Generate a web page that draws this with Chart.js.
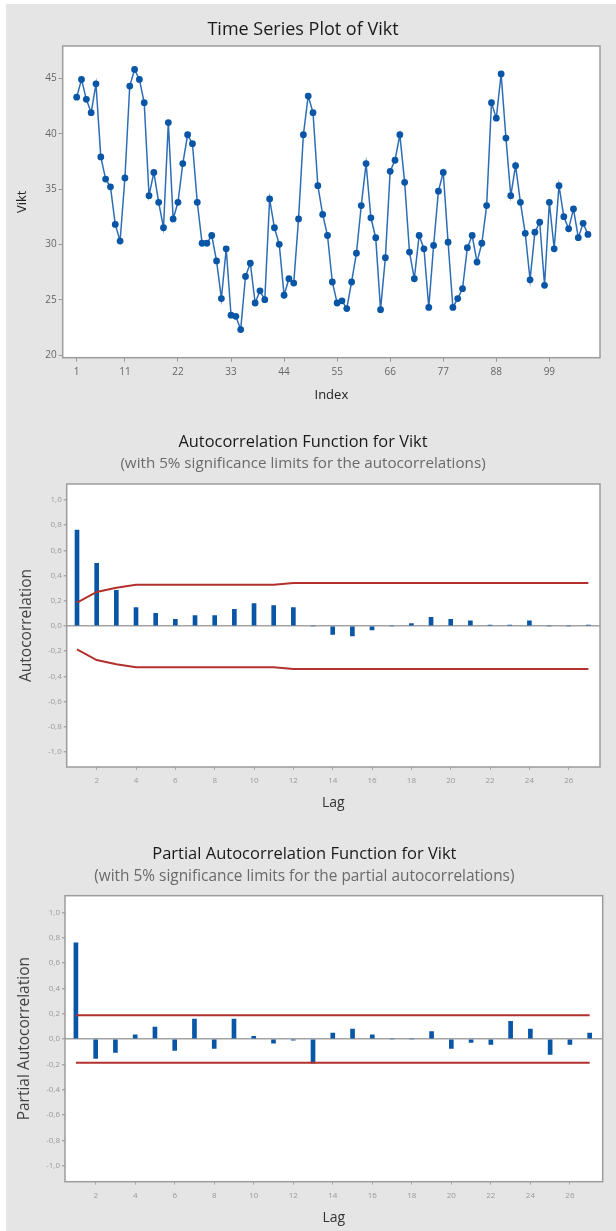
<!DOCTYPE html>
<html>
<head>
<meta charset="utf-8">
<script src="https://cdn.jsdelivr.net/npm/chart.js@4.4.1/dist/chart.umd.min.js"></script>
<style>
  html, body { margin: 0; padding: 0; background: #fff; }
  body { width: 616px; height: 1231px; position: relative; overflow: hidden; }
  .panel { position: absolute; left: 6px; width: 610px; background: #e5e5e5; }
  #p1 { top: 4px; height: 411px; }
  #p2 { top: 415px; height: 407px; }
  #p3 { top: 822px; height: 409px; }
  canvas { display: block; }
</style>
</head>
<body>
<div class="panel" id="p1"><canvas id="ts" width="610" height="411"></canvas></div>
<div class="panel" id="p2"><canvas id="acf" width="610" height="407"></canvas></div>
<div class="panel" id="p3"><canvas id="pacf" width="610" height="409"></canvas></div>
<script>
// time series values (Vikt), index 1..107
const vikt = [43.3, 44.9, 43.1, 41.9, 44.5, 37.9, 35.9, 35.2, 31.8, 30.3,
  36.0, 44.3, 45.8, 44.9, 42.8, 34.4, 36.5, 33.8, 31.5, 41.0,
  32.3, 33.8, 37.3, 39.9, 39.1, 33.8, 30.1, 30.1, 30.8, 28.5,
  25.1, 29.6, 23.6, 23.5, 22.3, 27.1, 28.3, 24.7, 25.8, 25.0,
  34.1, 31.5, 30.0, 25.4, 26.9, 26.5, 32.3, 39.9, 43.4, 41.9,
  35.3, 32.7, 30.8, 26.6, 24.7, 24.9, 24.2, 26.6, 29.2, 33.5,
  37.3, 32.4, 30.6, 24.1, 28.8, 36.6, 37.6, 39.9, 35.6, 29.3,
  26.9, 30.8, 29.6, 24.3, 29.9, 34.8, 36.5, 30.2, 24.3, 25.1,
  26.0, 29.7, 30.8, 28.4, 30.1, 33.5, 42.8, 41.4, 45.4, 39.6,
  34.4, 37.1, 33.8, 31.0, 26.8, 31.1, 32.0, 26.3, 33.8, 29.6,
  35.3, 32.5, 31.4, 33.2, 30.6, 31.9, 30.9];
const tsXTicks = [1, 11, 22, 33, 44, 55, 66, 77, 88, 99];
const tsYTicks = [20, 25, 30, 35, 40, 45];

const lags = [1, 2, 3, 4, 5, 6, 7, 8, 9, 10, 11, 12, 13, 14, 15, 16, 17, 18, 19, 20, 21, 22, 23, 24, 25, 26, 27];
const acf = [0.762, 0.497, 0.283, 0.146, 0.100, 0.053, 0.082, 0.082, 0.132, 0.177,
  0.161, 0.146, 0.000, -0.066, -0.079, -0.032, 0.000, 0.020, 0.069, 0.053,
  0.040, 0.008, 0.008, 0.040, 0.000, 0.000, 0.008];
const acfUpper = [0.186, 0.270, 0.303, 0.327, 0.327, 0.327, 0.327, 0.327, 0.327, 0.327,
  0.327, 0.341, 0.341, 0.341, 0.341, 0.341, 0.341, 0.341, 0.341, 0.341,
  0.341, 0.341, 0.341, 0.341, 0.341, 0.341, 0.341];
const acfLower = [-0.186, -0.270, -0.303, -0.327, -0.327, -0.327, -0.327, -0.327, -0.327, -0.327,
  -0.327, -0.341, -0.341, -0.341, -0.341, -0.341, -0.341, -0.341, -0.341, -0.341,
  -0.341, -0.341, -0.341, -0.341, -0.341, -0.341, -0.341];

const pacf = [0.759, -0.153, -0.105, 0.032, 0.095, -0.090, 0.158, -0.074, 0.158, 0.021,
  -0.032, -0.010, -0.190, 0.047, 0.079, 0.032, 0.000, 0.000, 0.058, -0.074,
  -0.026, -0.042, 0.140, 0.079, -0.121, -0.042, 0.047];
const pacfLimit = 0.188;

const lagTicks = [2, 4, 6, 8, 10, 12, 14, 16, 18, 20, 22, 24, 26];
const corrTicks = [-1.0, -0.8, -0.6, -0.4, -0.2, 0.0, 0.2, 0.4, 0.6, 0.8, 1.0];

Chart.defaults.font.family = "'Open Sans', sans-serif";
Chart.defaults.animation = false;

const BLUE = '#0a56a6';
const RED = '#b3312d';

// white plot area with grey frame
const boxPlugin = {
  id: 'box',
  beforeDraw(chart) {
    const {ctx, chartArea: a} = chart;
    ctx.save();
    ctx.fillStyle = '#fff';
    ctx.fillRect(a.left, a.top, a.right - a.left, a.bottom - a.top);
    ctx.restore();
  },
  afterDraw(chart) {
    const {ctx, chartArea: a} = chart;
    ctx.save();
    ctx.strokeStyle = '#9c9c9c';
    ctx.lineWidth = 1.5;
    ctx.strokeRect(a.left, a.top, a.right - a.left, a.bottom - a.top);
    ctx.restore();
  }
};

function setTicks(list) {
  return function(axis) { axis.ticks = list.map(v => ({value: v})); };
}
function comma(v) {
  return v.toFixed(1).replace('.', ',');
}

new Chart(document.getElementById('ts'), {
  type: 'line',
  data: {
    datasets: [{
      data: vikt.map((v, i) => ({x: i + 1, y: v})),
      borderColor: '#2d6db6',
      borderWidth: 1.5,
      pointRadius: 3.4,
      pointBackgroundColor: BLUE,
      pointBorderWidth: 0,
      tension: 0
    }]
  },
  options: {
    responsive: false,
    events: [],
    layout: { padding: { left: 0, right: 16, top: 0, bottom: 0 } },
    plugins: {
      legend: { display: false },
      tooltip: { enabled: false },
      title: { display: true, text: 'Time Series Plot of Vikt', color: '#1a1a1a',
        font: { size: 18, weight: 'normal' }, padding: { top: 15.2, bottom: 5.2 } }
    },
    scales: {
      x: {
        type: 'linear', min: -1.9, max: 109.5,
        afterBuildTicks: setTicks(tsXTicks),
        afterFit(ax) { ax.height = 57.3; },
        grid: { drawOnChartArea: false, tickLength: 4, tickColor: '#999' },
        border: { display: false },
        ticks: { color: '#666', font: { size: 10 }, padding: 4, maxRotation: 0, autoSkip: false },
        title: { display: true, text: 'Index', color: '#222', font: { size: 13 }, padding: { top: 0, bottom: 12.2 } }
      },
      y: {
        min: 19.76, max: 47.92,
        afterBuildTicks: setTicks(tsYTicks),
        afterFit(ax) { ax.width = 56.7; },
        grid: { drawOnChartArea: false, tickLength: 4, tickColor: '#999' },
        border: { display: false },
        ticks: { color: '#666', font: { size: 10 }, padding: 2 },
        title: { display: true, text: 'Vikt', color: '#222', font: { size: 13 }, padding: { top: 8.2, bottom: 0 } }
      }
    }
  },
  plugins: [boxPlugin]
});

function corrChart(id, opts) {
  return new Chart(document.getElementById(id), {
    type: 'bar',
    data: { datasets: opts.datasets },
    options: {
      responsive: false,
      events: [],
      layout: { padding: { left: 0, right: opts.right, top: 0, bottom: 0 } },
      plugins: {
        legend: { display: false },
        tooltip: { enabled: false },
        title: { display: true, text: opts.title, color: '#1a1a1a',
          font: { size: opts.titleSize, weight: 'normal' }, padding: { top: opts.titleTop, bottom: 0 } },
        subtitle: { display: true, text: opts.subtitle, color: '#6a6a6a',
          font: { size: opts.subSize }, padding: { top: opts.subTop, bottom: opts.subBottom } }
      },
      scales: {
        x: {
          type: 'linear', min: opts.xMin, max: opts.xMax, offset: false,
          afterBuildTicks: setTicks(lagTicks),
          afterFit(ax) { ax.height = opts.xHeight; },
          grid: { offset: false, drawOnChartArea: false, tickLength: 3, tickColor: '#aaa' },
          border: { display: false },
          ticks: { color: '#999', font: { size: 8 }, padding: 6, maxRotation: 0, autoSkip: false },
          title: { display: true, text: 'Lag', color: '#333', font: { size: 14 }, padding: { top: 0, bottom: opts.lagBottom } }
        },
        y: {
          min: opts.yMin, max: opts.yMax,
          afterBuildTicks: setTicks(corrTicks),
          afterFit(ax) { ax.width = opts.yWidth; },
          grid: {
            color: ctx => (ctx.tick && Math.abs(ctx.tick.value) < 1e-9) ? '#a3a3a3' : 'rgba(0,0,0,0)',
            lineWidth: 1.5, tickLength: 3, tickColor: '#aaa'
          },
          border: { display: false },
          ticks: { color: '#999', font: { size: 8 }, padding: 2, callback: v => comma(v) },
          title: { display: true, text: opts.yTitle, color: '#444', font: { size: 15.5 }, padding: { top: opts.yTitleTop, bottom: 0 } }
        }
      }
    },
    plugins: [boxPlugin]
  });
}

corrChart('acf', {
  title: 'Autocorrelation Function for Vikt',
  subtitle: '(with 5% significance limits for the autocorrelations)',
  yTitle: 'Autocorrelation',
  titleSize: 16.4, subSize: 15.2,
  titleTop: 17.15, subTop: 3.0, subBottom: 10.9,
  right: 16, xHeight: 55, lagBottom: 10.6, yWidth: 60.7, yTitleTop: 11.7,
  xMin: 0.476, xMax: 27.59, yMin: -1.119, yMax: 1.127,
  datasets: [
    { type: 'bar', order: 2, data: lags.map((l, i) => ({x: l, y: acf[i]})),
      backgroundColor: BLUE, barThickness: 4, borderWidth: 0 },
    { type: 'line', order: 1, data: lags.map((l, i) => ({x: l, y: acfUpper[i]})),
      borderColor: RED, borderWidth: 2, pointRadius: 0, tension: 0 },
    { type: 'line', order: 1, data: lags.map((l, i) => ({x: l, y: acfLower[i]})),
      borderColor: RED, borderWidth: 2, pointRadius: 0, tension: 0 }
  ]
});

corrChart('pacf', {
  title: 'Partial Autocorrelation Function for Vikt',
  subtitle: '(with 5% significance limits for the partial autocorrelations)',
  yTitle: 'Partial Autocorrelation',
  titleSize: 16.5, subSize: 15.4,
  titleTop: 22.1, subTop: 3.85, subBottom: 9.45,
  right: 13.3, xHeight: 49.3, lagBottom: 4.9, yWidth: 59, yTitleTop: 9.7,
  xMin: 0.448, xMax: 27.66, yMin: -1.126, yMax: 1.131,
  datasets: [
    { type: 'bar', order: 2, data: lags.map((l, i) => ({x: l, y: pacf[i]})),
      backgroundColor: BLUE, barThickness: 4, borderWidth: 0 },
    { type: 'line', order: 1, data: [{x: lags[0], y: pacfLimit}, {x: lags[lags.length - 1], y: pacfLimit}],
      borderColor: RED, borderWidth: 2, pointRadius: 0 },
    { type: 'line', order: 1, data: [{x: lags[0], y: -pacfLimit}, {x: lags[lags.length - 1], y: -pacfLimit}],
      borderColor: RED, borderWidth: 2, pointRadius: 0 }
  ]
});
</script>
</body>
</html>
